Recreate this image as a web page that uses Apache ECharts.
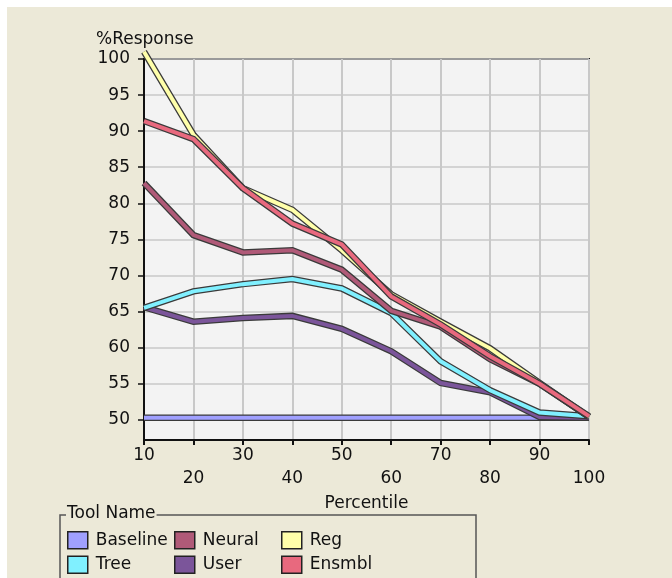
<!DOCTYPE html>
<html>
<head>
<meta charset="utf-8">
<script src="https://cdn.jsdelivr.net/npm/echarts@6/dist/echarts.min.js"></script>
<style>
html,body{margin:0;padding:0;background:#fff;}
#wrap{position:absolute;left:0;top:0;width:672px;height:578px;background:#fff;}
#chart{position:absolute;left:7px;top:7px;width:665px;height:571px;}
</style>
</head>
<body>
<div id="wrap"><div id="chart"></div></div>
<script>
const percentiles = [10, 20, 30, 40, 50, 60, 70, 80, 90, 100];
const yTicks = [50, 55, 60, 65, 70, 75, 80, 85, 90, 95, 100];
const baseline = [50.3, 50.3, 50.3, 50.3, 50.3, 50.3, 50.3, 50.3, 50.3, 50.3];
const tree     = [65.5, 67.8, 68.8, 69.5, 68.2, 64.8, 58.1, 54.1, 51.0, 50.5];
const user     = [65.6, 63.6, 64.1, 64.4, 62.6, 59.5, 55.1, 53.8, 50.4, 50.3];
const neural   = [82.8, 75.6, 73.2, 73.5, 70.8, 65.1, 62.9, 58.4, 55.0, 50.4];
const reg      = [101.0, 89.5, 82.1, 79.1, 73.5, 67.4, 63.6, 59.9, 55.1, 50.4];
const ensmbl   = [91.4, 88.9, 82.1, 77.2, 74.3, 67.1, 63.2, 58.8, 55.0, 50.5];

const seriesDefs = [
  {name: 'Baseline', data: baseline, color: '#A0A0FF'},
  {name: 'User', data: user, color: '#7B559A'},
  {name: 'Tree', data: tree, color: '#80F0FF'},
  {name: 'Neural', data: neural, color: '#B05A78'},
  {name: 'Reg', data: reg, color: '#FFFFAA'},
  {name: 'Ensmbl', data: ensmbl, color: '#E8697E'}
];
const colorOf = {};
seriesDefs.forEach(s => colorOf[s.name] = s.color);

const ox = 7, oy = 7; // chart offset within page
const FONT = 'DejaVu Sans';
const FS = 17;
const TXT = '#111';

const series = [];
seriesDefs.forEach(s => {
  const pts = percentiles.map((p, i) => [p, s.data[i]]);
  series.push({
    name: s.name, type: 'line', data: pts, symbol: 'none', clip: false,
    silent: true, lineStyle: {color: '#3a3a3a', width: 6.5, join: 'miter'},
    itemStyle: {color: s.color}, z: 2
  });
  series.push({
    name: s.name, type: 'line', data: pts, symbol: 'none', clip: false,
    lineStyle: {color: s.color, width: 4, join: 'miter'},
    itemStyle: {color: s.color}, z: 2
  });
});

function legendCol(names, left) {
  return {
    orient: 'vertical', left: left - ox, top: 531 - oy, padding: 0,
    itemWidth: 20, itemHeight: 17, itemGap: 6, icon: 'rect',
    selectedMode: false,
    textStyle: {fontFamily: FONT, fontSize: FS, color: TXT, lineHeight: 17, padding: [0, 0, 0, 3]},
    data: names.map(n => ({name: n, icon: 'rect',
      itemStyle: {color: colorOf[n], borderColor: '#222', borderWidth: 1.5}}))
  };
}

const chart = echarts.init(document.getElementById('chart'), null, {renderer: 'canvas'});
chart.setOption({
  backgroundColor: '#ECE9D8',
  animation: false,
  title: {
    text: '%Response', left: 96 - ox - 5, top: 31 - oy - 5,
    textStyle: {fontFamily: FONT, fontSize: FS, fontWeight: 'normal', color: TXT}
  },
  legend: [
    legendCol(['Baseline', 'Tree'], 67),
    legendCol(['Neural', 'User'], 174),
    legendCol(['Reg', 'Ensmbl'], 281)
  ],
  grid: {
    left: 144 - ox, top: 59 - oy, right: 672 - 589, bottom: 578 - 440,
    show: true, backgroundColor: '#F3F3F3', borderColor: '#111', borderWidth: 2
  },
  xAxis: {
    type: 'value', min: 10, max: 100, interval: 10,
    name: 'Percentile', nameLocation: 'middle', nameGap: 49,
    nameTextStyle: {fontFamily: FONT, fontSize: FS, color: TXT},
    axisLine: {show: true, onZero: false, lineStyle: {color: '#111', width: 2}},
    axisTick: {show: true, length: 5, lineStyle: {color: '#111', width: 2}},
    splitLine: {show: true, lineStyle: {color: '#C8C8C8', width: 2}},
    axisLabel: {
      fontFamily: FONT, fontSize: FS, color: TXT, margin: 4, lineHeight: 23,
      verticalAlign: 'top',
      formatter: v => ((v / 10) % 2 === 1 ? String(v) : '\n' + v)
    }
  },
  yAxis: {
    type: 'value', min: 47.2, max: 100,
    axisLine: {show: true, onZero: false, lineStyle: {color: '#111', width: 2}},
    axisTick: {show: true, length: 6, customValues: yTicks, lineStyle: {color: '#111', width: 1.5}},
    splitLine: {show: true, lineStyle: {color: '#C8C8C8', width: 1.5}},
    axisLabel: {fontFamily: FONT, fontSize: FS, color: TXT, margin: 14, customValues: yTicks}
  },
  graphic: [
    {type: 'rect', shape: {x: 60 - ox, y: 515 - oy, width: 416, height: 80},
     style: {fill: 'none', stroke: '#555', lineWidth: 1.5}, z: 10},
    {type: 'text', left: 66 - ox, top: 505 - oy, z: 11,
     style: {text: 'Tool Name', font: FS + 'px "DejaVu Sans"', fill: TXT,
       backgroundColor: '#ECE9D8', padding: [0, 1, 0, 1]}}
  ],
  series: series
});
</script>
</body>
</html>
